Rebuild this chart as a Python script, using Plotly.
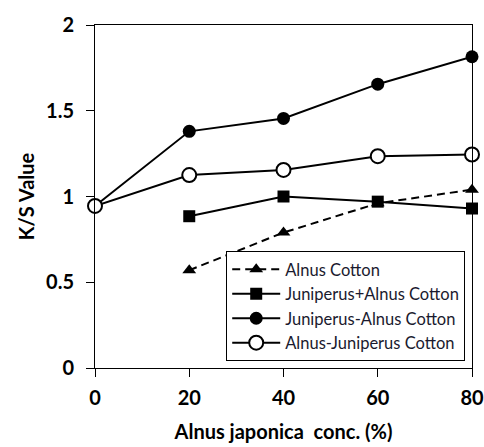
import plotly.graph_objects as go

x_all = [0, 20, 40, 60, 80]
x_partial = [20, 40, 60, 80]
alnus_cotton = [0.57, 0.79, 0.96, 1.04]
juniperus_plus_alnus = [0.885, 1.00, 0.97, 0.93]
juniperus_alnus = [0.945, 1.38, 1.455, 1.655, 1.815]
alnus_juniperus = [0.945, 1.125, 1.155, 1.235, 1.245]

fig = go.Figure()
fig.add_trace(go.Scatter(x=x_partial, y=alnus_cotton, name="Alnus Cotton", mode="lines+markers",
                         line=dict(color="black", width=2, dash="8px,5px"),
                         marker=dict(symbol="triangle-up", size=12, color="black")))
fig.add_trace(go.Scatter(x=x_partial, y=juniperus_plus_alnus, name="Juniperus+Alnus Cotton", mode="lines+markers",
                         line=dict(color="black", width=2),
                         marker=dict(symbol="square", size=12, color="black")))
fig.add_trace(go.Scatter(x=x_all, y=juniperus_alnus, name="Juniperus-Alnus Cotton", mode="lines+markers",
                         line=dict(color="black", width=2),
                         marker=dict(symbol="circle", size=13, color="black")))
fig.add_trace(go.Scatter(x=x_all, y=alnus_juniperus, name="Alnus-Juniperus Cotton", mode="lines+markers",
                         line=dict(color="black", width=2),
                         marker=dict(symbol="circle", size=14, color="white", line=dict(color="black", width=2))))

fig.update_layout(
    width=484, height=447,
    margin=dict(l=95, r=12, t=25, b=79, autoexpand=False),
    paper_bgcolor="white", plot_bgcolor="white",
    font=dict(family="Lato", color="black"),
    showlegend=True,
    legend=dict(x=0.982, y=0.02, xanchor="right", yanchor="bottom",
                bordercolor="black", borderwidth=1, bgcolor="white",
                font=dict(size=16.5, family="Lato", color="#1a1a2e"),
                tracegroupgap=0, itemwidth=48),
    xaxis=dict(range=[0, 80], tickvals=[0, 20, 40, 60, 80], showgrid=False, zeroline=False,
               showline=True, linecolor="black", linewidth=1, mirror=True, automargin=False,
               ticks="outside", ticklen=8, tickcolor="black", ticklabelstandoff=4,
               tickfont=dict(size=20, family="Lato", color="black", weight="bold"),
               title=dict(text="<b>Alnus japonica  conc. (%)</b>", font=dict(size=20, family="Lato"), standoff=16)),
    yaxis=dict(range=[0, 2], tickvals=[0, 0.5, 1, 1.5, 2], ticktext=["0", "0.5", "1", "1.5", "2"],
               showgrid=False, zeroline=False, automargin=False,
               showline=True, linecolor="black", linewidth=1, mirror=True,
               ticks="outside", ticklen=8, tickcolor="black", ticklabelstandoff=8,
               tickfont=dict(size=20, family="Lato", color="black", weight="bold"),
               title=dict(text="<b>K/S Value</b>", font=dict(size=20, family="Lato"), standoff=6)),
)
for tr in fig.data:
    tr.cliponaxis = False

fig.write_html("out.html", config={"displayModeBar": False},
               post_script="document.body.style.margin='0';document.body.style.overflow='hidden';")
